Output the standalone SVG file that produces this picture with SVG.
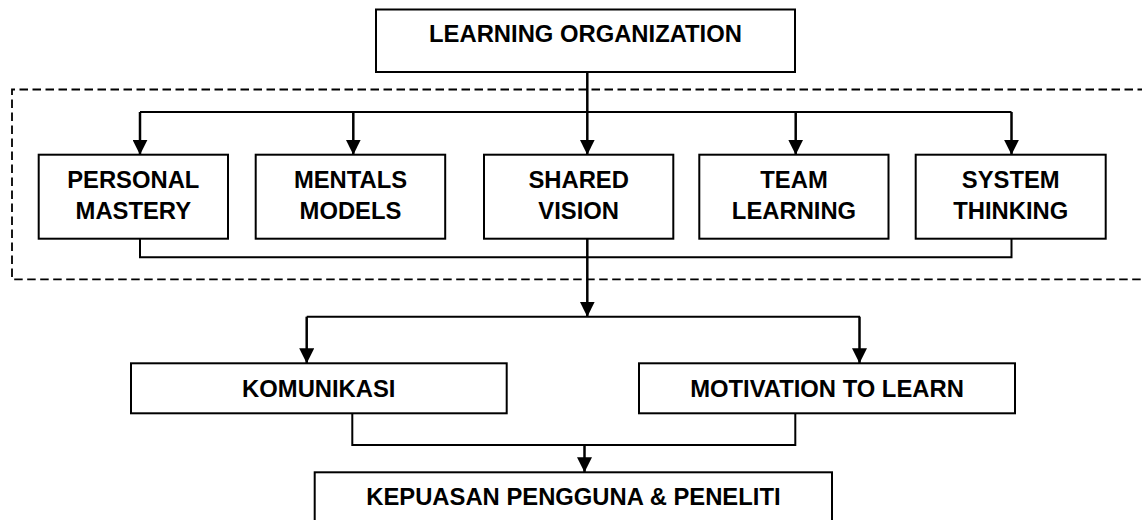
<svg xmlns="http://www.w3.org/2000/svg" width="1142" height="520" viewBox="0 0 1142 520">
  <style>
    .box { fill: #ffffff; stroke: #000000; stroke-width: 2; }
    .lbl { font-family: "Liberation Sans", Arial, sans-serif; font-weight: bold; font-size: 23.8px; fill: #000000; text-anchor: middle; }
    .wire { fill: none; stroke: #000000; stroke-width: 2; }
    .shaft { fill: none; stroke: #000000; stroke-width: 2.5; }
    .frame { fill: none; stroke: #000000; stroke-width: 1.8; stroke-dasharray: 8.5 4.5; }
  </style>
  <defs>
    <marker id="head" markerUnits="userSpaceOnUse" markerWidth="15" markerHeight="15" refX="15" refY="7.5" orient="auto">
      <path d="M0,0 L15,7.5 L0,15 z" fill="#000000"/>
    </marker>
  </defs>

  <rect width="1142" height="520" fill="#ffffff"/>

  <!-- dashed frame around the five disciplines -->
  <path class="frame" d="M1146,89.5 H12 V279.3 H1146"/>

  <!-- connectors -->
  <g id="connectors">
    <!-- distribution bus to the five disciplines -->
    <path class="wire" d="M140,112 H1011.5"/>
    <path class="shaft" d="M140,112 V154.7" marker-end="url(#head)"/>
    <path class="shaft" d="M353.3,112 V154.7" marker-end="url(#head)"/>
    <path class="shaft" d="M587.3,72 V154.7" marker-end="url(#head)"/>
    <path class="shaft" d="M795.7,112 V154.7" marker-end="url(#head)"/>
    <path class="shaft" d="M1011.5,112 V154.7" marker-end="url(#head)"/>
    <!-- collecting bus below the disciplines -->
    <path class="wire" d="M140,238.7 V257.3 H1011.5 V238.7"/>
    <path class="shaft" d="M587.3,238.7 V316.7" marker-end="url(#head)"/>
    <!-- split to the two outcomes -->
    <path class="wire" d="M306.7,316.7 H860"/>
    <path class="shaft" d="M306.7,316.7 V363.3" marker-end="url(#head)"/>
    <path class="shaft" d="M859.5,316.7 V363.3" marker-end="url(#head)"/>
    <!-- join towards satisfaction -->
    <path class="wire" d="M352.3,413.3 V445 H795.3 V413.3"/>
    <path class="shaft" d="M584.5,445 V472.3" marker-end="url(#head)"/>
  </g>

  <g id="learning-organization">
    <rect class="box" x="376" y="9.5" width="419" height="62.5"/>
    <text class="lbl" x="585.5" y="41.7">LEARNING ORGANIZATION</text>
  </g>

  <g id="personal-mastery">
    <rect class="box" x="38.7" y="154.7" width="189.3" height="84"/>
    <text class="lbl" x="133.3" y="188.3">PERSONAL</text>
    <text class="lbl" x="133.3" y="219.3">MASTERY</text>
  </g>

  <g id="mentals-models">
    <rect class="box" x="255.7" y="154.7" width="189.5" height="84"/>
    <text class="lbl" x="350.5" y="188.3">MENTALS</text>
    <text class="lbl" x="350.5" y="219.3">MODELS</text>
  </g>

  <g id="shared-vision">
    <rect class="box" x="484" y="154.7" width="189.3" height="84"/>
    <text class="lbl" x="578.7" y="188.3">SHARED</text>
    <text class="lbl" x="578.7" y="219.3">VISION</text>
  </g>

  <g id="team-learning">
    <rect class="box" x="699.3" y="154.7" width="189.2" height="84"/>
    <text class="lbl" x="794" y="188.3">TEAM</text>
    <text class="lbl" x="794" y="219.3">LEARNING</text>
  </g>

  <g id="system-thinking">
    <rect class="box" x="915.7" y="154.7" width="190" height="84"/>
    <text class="lbl" x="1010.7" y="188.3">SYSTEM</text>
    <text class="lbl" x="1010.7" y="219.3">THINKING</text>
  </g>

  <g id="komunikasi">
    <rect class="box" x="131" y="363.3" width="375.7" height="50"/>
    <text class="lbl" x="318.8" y="396.7">KOMUNIKASI</text>
  </g>

  <g id="motivation-to-learn">
    <rect class="box" x="639" y="363.3" width="376" height="50"/>
    <text class="lbl" x="827" y="396.7">MOTIVATION TO LEARN</text>
  </g>

  <g id="kepuasan">
    <rect class="box" x="314.7" y="472.3" width="517.3" height="60"/>
    <text class="lbl" x="573.4" y="505">KEPUASAN PENGGUNA &amp; PENELITI</text>
  </g>
</svg>
